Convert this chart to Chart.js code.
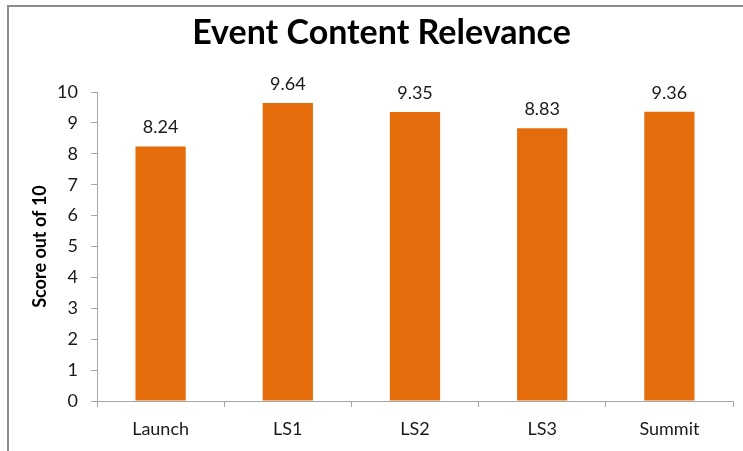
<!DOCTYPE html>
<html lang="en">
<head>
    <meta charset="UTF-8">
    <title>Event Content Relevance</title>
    <script src="https://cdn.jsdelivr.net/npm/chart.js"></script>
    <style>
        body {
            margin: 0;
            padding: 0;
            background: #ffffff;
            overflow: hidden;
        }
        .frame {
            position: absolute;
            left: 7px;
            top: 5px;
            width: 800px;
            height: 500px;
            border: 2px solid #8c8c8c;
            box-sizing: border-box;
        }
        .wrap {
            position: absolute;
            left: 0;
            top: 0;
            width: 743px;
            height: 451px;
        }
    </style>
</head>
<body>
    <div class="frame"></div>
    <div class="wrap">
        <canvas id="chart"></canvas>
    </div>

    <script>
        // Datos del gráfico
        const categories = ['Launch', 'LS1', 'LS2', 'LS3', 'Summit'];
        const scores = [8.24, 9.64, 9.35, 8.83, 9.36];
        const yTicks = [0, 1, 2, 3, 4, 5, 6, 7, 8, 9, 10];
        const chartTitle = 'Event Content Relevance';

        const FONT = "Lato, 'Open Sans', sans-serif";

        // Título y etiquetas de valor encima de cada barra
        const valueLabels = {
            id: 'valueLabels',
            afterDatasetsDraw(chart) {
                const ctx = chart.ctx;
                const meta = chart.getDatasetMeta(0);
                ctx.save();
                ctx.font = "18px " + FONT;
                ctx.fillStyle = '#1a1a1a';
                ctx.textAlign = 'center';
                ctx.textBaseline = 'middle';
                meta.data.forEach((bar, i) => {
                    ctx.fillText(scores[i].toFixed(2), bar.x, bar.y - 19);
                });

                // título centrado sobre el marco completo
                ctx.font = "bold 34px " + FONT;
                ctx.fillStyle = '#000000';
                ctx.textBaseline = 'alphabetic';
                ctx.fillText(chartTitle, chart.width / 2 + 10, 44);
                ctx.restore();
            }
        };

        const ctx = document.getElementById('chart').getContext('2d');
        new Chart(ctx, {
            type: 'bar',
            data: {
                labels: categories,
                datasets: [{
                    label: 'Score',
                    data: scores,
                    backgroundColor: '#E46C0A',
                    borderWidth: 0,
                    barPercentage: 0.395,
                    categoryPercentage: 1
                }]
            },
            options: {
                responsive: true,
                maintainAspectRatio: false,
                animation: false,
                layout: {
                    padding: { left: 0, right: 10, top: 92, bottom: 0 }
                },
                plugins: {
                    legend: { display: false },
                    tooltip: { enabled: false },
                    title: { display: false }
                },
                scales: {
                    x: {
                        offset: true,
                        afterFit(scale) { scale.height = 50; },
                        border: { display: true, color: '#a6a6a6', width: 1 },
                        grid: {
                            display: true,
                            offset: true,
                            drawOnChartArea: false,
                            drawTicks: true,
                            tickLength: 6,
                            color: '#a6a6a6'
                        },
                        ticks: {
                            color: '#1a1a1a',
                            padding: 11,
                            font: { family: FONT, size: 18 }
                        }
                    },
                    y: {
                        min: 0,
                        max: 10,
                        afterFit(scale) { scale.width = 97; },
                        afterBuildTicks(scale) {
                            scale.ticks = yTicks.map(v => ({ value: v }));
                        },
                        border: { display: true, color: '#a6a6a6', width: 1 },
                        grid: {
                            display: true,
                            drawOnChartArea: false,
                            drawTicks: true,
                            tickLength: 6,
                            color: '#a6a6a6'
                        },
                        ticks: {
                            color: '#1a1a1a',
                            padding: 13,
                            font: { family: FONT, size: 18 }
                        },
                        title: {
                            display: true,
                            text: 'Score out of 10',
                            color: '#000000',
                            font: { family: FONT, size: 18, weight: 'bold' },
                            padding: { top: 29, bottom: 0 }
                        }
                    }
                }
            },
            plugins: [valueLabels]
        });
    </script>
</body>
</html>
